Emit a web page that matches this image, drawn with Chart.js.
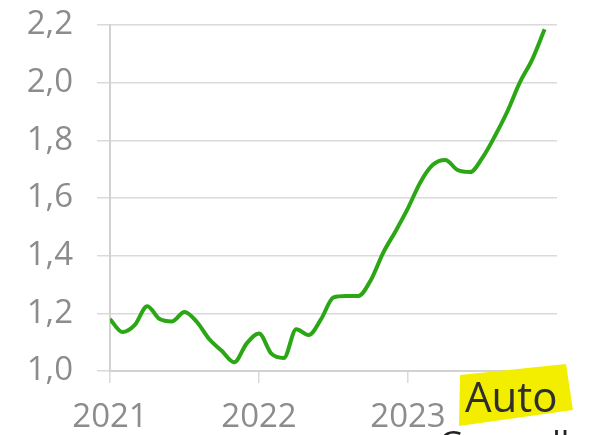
<!DOCTYPE html>
<html>
<head>
<meta charset="utf-8">
<script src="https://cdn.jsdelivr.net/npm/chart.js@4"></script>
<style>
  html, body { margin: 0; padding: 0; background: #fff; overflow: hidden; }
  #wrap { position: relative; width: 593px; height: 435px; overflow: hidden; }
  #tag {
    position: absolute; left: 458px; top: 362px; width: 116px; height: 66px;
    background: #f3ee00;
    clip-path: polygon(2px 13px, 108px 2px, 115px 48px, 1px 64px);
  }
  #tagText {
    position: absolute; left: 465px; top: 375px;
    font: 42px/42px "Open Sans", sans-serif; color: #2f2f2f;
  }
  #nextTitle {
    position: absolute; left: 439px; top: 426px; white-space: nowrap;
    font: 34px/34px "Open Sans", sans-serif; color: #222;
  }
</style>
</head>
<body>
<div id="wrap">
  <canvas id="priceChart" width="593" height="435"></canvas>
  <div id="tag"></div>
  <div id="tagText">Auto</div>
  <div id="nextTitle">Gezondheid</div>
</div>
<script>
// monthly index, Jan 2021 .. Dec 2023
const years = ['2021', '2022', '2023', ''];
const values = [
    1.18, 1.135, 1.16, 1.225, 1.18, 1.172, 1.205, 1.17, 1.11, 1.07, 1.03, 1.095,
    1.13, 1.06, 1.045, 1.145, 1.125, 1.18, 1.255, 1.26, 1.26, 1.315, 1.41, 1.485,
    1.565, 1.655, 1.715, 1.732, 1.697, 1.69, 1.74, 1.815, 1.9, 2.0, 2.08, 2.185
];
const yTicks = [1.0, 1.2, 1.4, 1.6, 1.8, 2.0, 2.2];

const gridColor = '#dadada';
const labelColor = '#8c8c8c';

const ctx = document.getElementById('priceChart').getContext('2d');
const priceChart = new Chart(ctx, {
    type: 'line',
    data: {
        datasets: [{
            data: values.map((v, i) => ({ x: i, y: v })),
            borderColor: '#2ba614',
            borderWidth: 4,
            cubicInterpolationMode: 'monotone',
            pointRadius: 0,
            fill: false
        }]
    },
    options: {
        responsive: false,
        animation: false,
        layout: {
            padding: { top: 25, right: 36, left: 0, bottom: 0 }
        },
        plugins: {
            legend: { display: false },
            tooltip: { enabled: false }
        },
        scales: {
            x: {
                type: 'linear',
                min: 0,
                max: 36,
                afterFit: (scale) => {
                    scale.height = 64;
                    scale.paddingLeft = 0;
                    scale.paddingRight = 0;
                },
                afterBuildTicks: (scale) => {
                    scale.ticks = years.map((y, i) => ({ value: i * 12 }));
                },
                ticks: {
                    autoSkip: false,
                    maxRotation: 0,
                    padding: 15,
                    color: labelColor,
                    font: { family: 'Open Sans', size: 33 },
                    callback: (value) => years[value / 12]
                },
                grid: {
                    drawOnChartArea: false,
                    tickLength: 12,
                    color: gridColor,
                    lineWidth: 1.5
                },
                border: { color: '#d2d2d2', width: 2 }
            },
            y: {
                min: 1.0,
                max: 2.2,
                afterFit: (scale) => {
                    scale.width = 110;
                    scale.paddingTop = 0;
                    scale.paddingBottom = 0;
                },
                afterBuildTicks: (scale) => {
                    scale.ticks = yTicks.map(v => ({ value: v }));
                },
                ticks: {
                    padding: 24,
                    color: labelColor,
                    font: { family: 'Open Sans', size: 33 },
                    callback: (value) => value.toFixed(1).replace('.', ',')
                },
                grid: {
                    tickLength: 13,
                    color: gridColor,
                    lineWidth: 1.5
                },
                border: { color: '#d2d2d2', width: 2 }
            }
        }
    }
});
</script>
</body>
</html>
